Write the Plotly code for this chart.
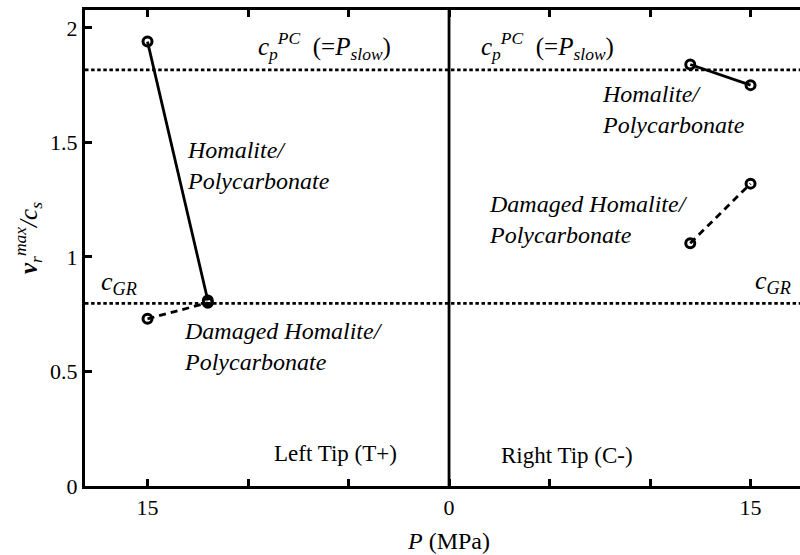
import plotly.graph_objects as go

# ---- data ----
left_P = [15, 12]                 # Left tip (T+) pressures, MPa
left_homalite = [1.94, 0.81]
left_damaged = [0.73, 0.80]

right_P = [12, 15]                # Right tip (C-) pressures, MPa
right_homalite = [1.84, 1.75]
right_damaged = [1.06, 1.32]

c_p_PC = 1.817                    # P-wave speed of polycarbonate (normalized)
c_GR = 0.797                      # generalized Rayleigh wave speed (normalized)

x_tick_vals = [-15, -10, -5, 0, 5, 10, 15]
x_tick_text = ["15", "", "", "0", "", "", "15"]
y_tick_vals = [0, 0.5, 1, 1.5, 2]
y_tick_text = ["0", "0.5", "1", "1.5", "2"]

FONT = "Liberation Serif"
BLACK = "black"

left_x = [-p for p in left_P]

fig = go.Figure()

def add_series(x, y, dash):
    fig.add_trace(go.Scatter(
        x=x, y=y, mode="lines+markers",
        line=dict(color=BLACK, width=2.8, dash=dash),
        marker=dict(symbol="circle-open", size=9, color=BLACK,
                    line=dict(color=BLACK, width=3)),
        showlegend=False, hoverinfo="skip"))

add_series(left_x, left_damaged, "7px,5px")
add_series(left_x, left_homalite, "solid")
add_series(right_P, right_homalite, "solid")
add_series(right_P, right_damaged, "7px,5px")

fig.add_hline(y=c_p_PC, line=dict(color=BLACK, width=2.8, dash="3.5px,2.6px"))
fig.add_hline(y=c_GR, line=dict(color=BLACK, width=2.8, dash="3.5px,2.6px"))
fig.add_vline(x=0, line=dict(color=BLACK, width=2.8))

def ann(x, y, text, size=24, xanchor="center"):
    fig.add_annotation(x=x, y=y, xref="x", yref="y", text=text, showarrow=False,
                       xanchor=xanchor, yanchor="middle", align="left",
                       font=dict(family=FONT, size=size, color=BLACK))

cp_text = "<i>c</i><sub><i>p</i></sub><sup><i>PC</i></sup>  (=<i>P</i><sub><i>slow</i></sub>)"
ann(-6.2, 1.92, cp_text, size=25)
ann(4.9, 1.92, cp_text, size=25)

ann(-13.15, 1.40, "<i>Homalite/</i><br><i>Polycarbonate</i>", xanchor="left")
ann(-13.3, 0.61, "<i>Damaged Homalite/</i><br><i>Polycarbonate</i>", xanchor="left")
ann(-17.4, 0.885, "<i>c</i><sub><i>GR</i></sub>", size=26, xanchor="left")

ann(7.5, 1.643, "<i>Homalite/</i><br><i>Polycarbonate</i>", xanchor="left")
ann(1.9, 1.163, "<i>Damaged Homalite/</i><br><i>Polycarbonate</i>", xanchor="left")
ann(15.1, 0.89, "<i>c</i><sub><i>GR</i></sub>", size=26, xanchor="left")

ann(-5.67, 0.144, "Left Tip (T+)", size=23)
ann(5.87, 0.135, "Right Tip (C-)", size=23)

# axis titles
fig.add_annotation(
    xref="paper", yref="paper", x=-0.079, y=0.52,
    text="<b><i>v</i></b><sub><i>r</i></sub><sup><i>max</i></sup><i>/c</i><sub><i>s</i></sub>",
    textangle=-90, showarrow=False, xanchor="center", yanchor="middle",
    font=dict(family=FONT, size=25, color=BLACK))
fig.add_annotation(
    xref="paper", yref="paper", x=0.509, y=-0.115,
    text="<i>P</i> (MPa)", showarrow=False, xanchor="center", yanchor="middle",
    font=dict(family=FONT, size=24, color=BLACK))

fig.update_xaxes(
    range=[-18.11, 17.46], tickvals=x_tick_vals, ticktext=x_tick_text,
    ticks="inside", ticklen=7, tickwidth=2.5, tickcolor=BLACK,
    showline=True, linewidth=3, linecolor=BLACK, mirror="ticks",
    showgrid=False, zeroline=False,
    tickfont=dict(family=FONT, size=22, color=BLACK))
fig.update_yaxes(
    range=[0, 2.078], tickvals=y_tick_vals, ticktext=y_tick_text,
    ticks="inside", ticklen=7, tickwidth=2.5, tickcolor=BLACK,
    showline=True, linewidth=3, linecolor=BLACK,
    showgrid=False, zeroline=False,
    tickfont=dict(family=FONT, size=22, color=BLACK))

fig.update_layout(
    width=800, height=555,
    margin=dict(l=85, r=0, t=10, b=69),
    plot_bgcolor="white", paper_bgcolor="white",
    font=dict(family=FONT, color=BLACK))

fig.write_html("out.html", config={"displayModeBar": False},
               post_script="document.body.style.margin='0';document.body.style.overflow='hidden';")
